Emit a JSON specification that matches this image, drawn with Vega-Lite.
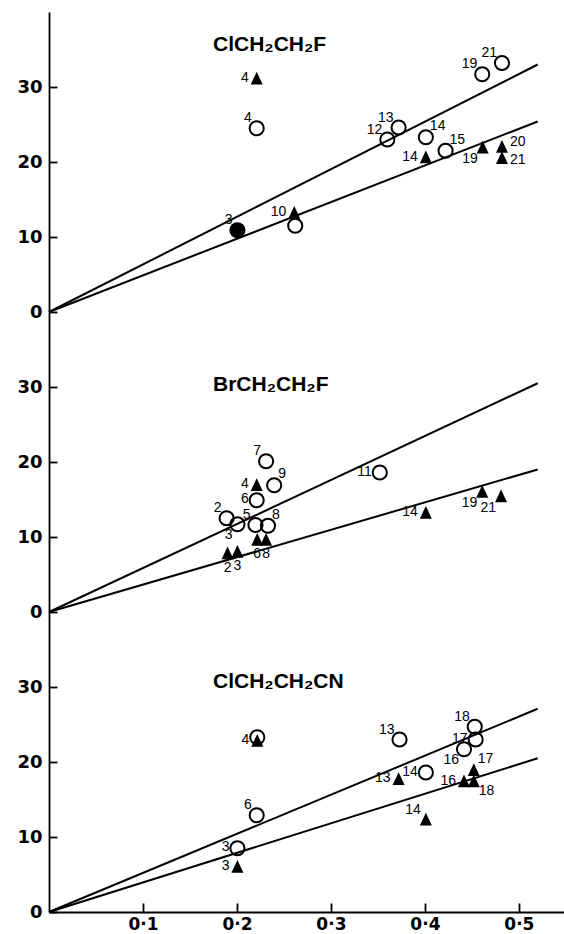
{
  "$schema": "https://vega.github.io/schema/vega-lite/v6.json",
  "padding": {"left": 5, "top": 12, "right": 0, "bottom": 0},
  "background": "white",
  "spacing": 0,
  "bounds": "flush",
  "config": {
    "view": {"stroke": null},
    "axis": {"grid": false, "domainColor": "black", "tickColor": "black", "labelColor": "black", "domainWidth": 1.8, "tickWidth": 1.8, "labelFont": "DejaVu Sans", "labelFontWeight": "bold", "labelFontSize": 18, "title": null},
    "text": {"font": "Liberation Sans", "fontSize": 14, "color": "black"}
  },
  "datasets": {
    "titles": [
      {"panel": "A", "name": "ClCH₂CH₂F"},
      {"panel": "B", "name": "BrCH₂CH₂F"},
      {"panel": "C", "name": "ClCH₂CH₂CN"}
    ],
    "lines": [
      {"panel": "A", "line": "a", "x": 0, "y": 0}, {"panel": "A", "line": "a", "x": 0.52, "y": 33.0},
      {"panel": "A", "line": "b", "x": 0, "y": 0}, {"panel": "A", "line": "b", "x": 0.52, "y": 25.4},
      {"panel": "B", "line": "a", "x": 0, "y": 0}, {"panel": "B", "line": "a", "x": 0.52, "y": 30.5},
      {"panel": "B", "line": "b", "x": 0, "y": 0}, {"panel": "B", "line": "b", "x": 0.52, "y": 19.0},
      {"panel": "C", "line": "a", "x": 0, "y": 0}, {"panel": "C", "line": "a", "x": 0.52, "y": 27.1},
      {"panel": "C", "line": "b", "x": 0, "y": 0}, {"panel": "C", "line": "b", "x": 0.52, "y": 20.5}
    ],
    "points": [
      {"panel": "A", "marker": "tri", "x": 0.221, "y": 31.1, "label": "4", "pos": "l"},
      {"panel": "A", "marker": "open", "x": 0.221, "y": 24.5, "label": "4", "pos": "ul"},
      {"panel": "A", "marker": "both", "x": 0.2005, "y": 10.9, "label": "3", "pos": "ul"},
      {"panel": "A", "marker": "tri", "x": 0.261, "y": 13.2, "label": "10", "pos": "l"},
      {"panel": "A", "marker": "open", "x": 0.262, "y": 11.5, "label": "", "pos": "none"},
      {"panel": "A", "marker": "open", "x": 0.360, "y": 23.0, "label": "12", "pos": "ul"},
      {"panel": "A", "marker": "open", "x": 0.372, "y": 24.6, "label": "13", "pos": "ul"},
      {"panel": "A", "marker": "open", "x": 0.401, "y": 23.3, "label": "14", "pos": "ur"},
      {"panel": "A", "marker": "open", "x": 0.422, "y": 21.5, "label": "15", "pos": "ur"},
      {"panel": "A", "marker": "tri", "x": 0.401, "y": 20.6, "label": "14", "pos": "l"},
      {"panel": "A", "marker": "tri", "x": 0.4615, "y": 21.9, "label": "19", "pos": "ll"},
      {"panel": "A", "marker": "tri", "x": 0.482, "y": 22.0, "label": "20", "pos": "ru"},
      {"panel": "A", "marker": "tri", "x": 0.482, "y": 20.5, "label": "21", "pos": "rd"},
      {"panel": "A", "marker": "open", "x": 0.461, "y": 31.7, "label": "19", "pos": "ul"},
      {"panel": "A", "marker": "open", "x": 0.482, "y": 33.2, "label": "21", "pos": "ul"},

      {"panel": "B", "marker": "open", "x": 0.231, "y": 20.1, "label": "7", "pos": "ul"},
      {"panel": "B", "marker": "open", "x": 0.2396, "y": 16.9, "label": "9", "pos": "ur"},
      {"panel": "B", "marker": "tri", "x": 0.221, "y": 16.9, "label": "4", "pos": "l"},
      {"panel": "B", "marker": "open", "x": 0.221, "y": 14.9, "label": "6", "pos": "l"},
      {"panel": "B", "marker": "open", "x": 0.189, "y": 12.5, "label": "2", "pos": "ul"},
      {"panel": "B", "marker": "open", "x": 0.2005, "y": 11.7, "label": "3", "pos": "ll"},
      {"panel": "B", "marker": "open", "x": 0.2197, "y": 11.6, "label": "5", "pos": "ul"},
      {"panel": "B", "marker": "open", "x": 0.233, "y": 11.5, "label": "8", "pos": "ur"},
      {"panel": "B", "marker": "tri", "x": 0.190, "y": 7.8, "label": "2", "pos": "b"},
      {"panel": "B", "marker": "tri", "x": 0.2005, "y": 8.0, "label": "3", "pos": "b"},
      {"panel": "B", "marker": "tri", "x": 0.2216, "y": 9.6, "label": "6", "pos": "b"},
      {"panel": "B", "marker": "tri", "x": 0.231, "y": 9.6, "label": "8", "pos": "b"},
      {"panel": "B", "marker": "open", "x": 0.352, "y": 18.6, "label": "11", "pos": "l"},
      {"panel": "B", "marker": "tri", "x": 0.401, "y": 13.2, "label": "14", "pos": "l"},
      {"panel": "B", "marker": "tri", "x": 0.461, "y": 16.0, "label": "19", "pos": "ll"},
      {"panel": "B", "marker": "tri", "x": 0.481, "y": 15.4, "label": "21", "pos": "ll"},

      {"panel": "C", "marker": "open", "x": 0.2216, "y": 23.3, "label": "", "pos": "none"},
      {"panel": "C", "marker": "tri", "x": 0.2216, "y": 22.8, "label": "4", "pos": "l"},
      {"panel": "C", "marker": "open", "x": 0.373, "y": 23.0, "label": "13", "pos": "ul"},
      {"panel": "C", "marker": "open", "x": 0.453, "y": 24.7, "label": "18", "pos": "ul"},
      {"panel": "C", "marker": "open", "x": 0.454, "y": 23.0, "label": "17", "pos": "l"},
      {"panel": "C", "marker": "open", "x": 0.4416, "y": 21.7, "label": "16", "pos": "ll"},
      {"panel": "C", "marker": "open", "x": 0.401, "y": 18.6, "label": "14", "pos": "l"},
      {"panel": "C", "marker": "tri", "x": 0.372, "y": 17.7, "label": "13", "pos": "l"},
      {"panel": "C", "marker": "tri", "x": 0.4416, "y": 17.4, "label": "16", "pos": "l"},
      {"panel": "C", "marker": "tri", "x": 0.452, "y": 18.9, "label": "17", "pos": "ur"},
      {"panel": "C", "marker": "tri", "x": 0.452, "y": 17.4, "label": "18", "pos": "lr"},
      {"panel": "C", "marker": "open", "x": 0.221, "y": 12.9, "label": "6", "pos": "ul"},
      {"panel": "C", "marker": "open", "x": 0.2005, "y": 8.5, "label": "3", "pos": "l"},
      {"panel": "C", "marker": "tri", "x": 0.2005, "y": 6.0, "label": "3", "pos": "l"},
      {"panel": "C", "marker": "tri", "x": 0.401, "y": 12.3, "label": "14", "pos": "ul"}
    ]
  },
  "vconcat": [
    {
      "width": 515, "height": 300,
      "layer": [
        {"data": {"name": "lines"}, "transform": [{"filter": "datum.panel === 'A'"}], "mark": {"type": "line", "color": "black", "strokeWidth": 2},
         "encoding": {
           "x": {"field": "x", "type": "quantitative", "scale": {"domain": [0, 0.548], "nice": false, "zero": false}, "axis": null},
           "y": {"field": "y", "type": "quantitative", "scale": {"domain": [0, 40], "nice": false}, "axis": {"values": [0, 10, 20, 30], "tickSize": -8, "labelPadding": 15, "minExtent": 44, "maxExtent": 44}},
           "detail": {"field": "line"}}},
        {"data": {"name": "points"}, "transform": [{"filter": "datum.panel === 'A' && datum.marker === 'open'"}], "mark": {"type": "point", "shape": "circle", "size": 200, "filled": false, "stroke": "black", "strokeWidth": 2, "opacity": 1},
         "encoding": {"x": {"field": "x", "type": "quantitative", "axis": null}, "y": {"field": "y", "type": "quantitative"}}},
        {"data": {"name": "points"}, "transform": [{"filter": "datum.panel === 'A' && datum.marker === 'both'"}], "mark": {"type": "point", "shape": "circle", "size": 260, "filled": true, "color": "black", "opacity": 1},
         "encoding": {"x": {"field": "x", "type": "quantitative", "axis": null}, "y": {"field": "y", "type": "quantitative"}}},
        {"data": {"name": "points"}, "transform": [{"filter": "datum.panel === 'A' && datum.marker === 'tri'"}], "mark": {"type": "point", "shape": "M0,-1L0.85,0.8L-0.85,0.8Z", "size": 200, "filled": true, "color": "black", "opacity": 1},
         "encoding": {"x": {"field": "x", "type": "quantitative", "axis": null}, "y": {"field": "y", "type": "quantitative"}}},
        {"data": {"name": "points"}, "transform": [{"filter": "datum.panel === 'A' && datum.pos === 'ul'"}], "mark": {"type": "text", "align": "right", "baseline": "alphabetic", "dx": -5, "dy": -6},
         "encoding": {"x": {"field": "x", "type": "quantitative", "axis": null}, "y": {"field": "y", "type": "quantitative"}, "text": {"field": "label"}}},
        {"data": {"name": "points"}, "transform": [{"filter": "datum.panel === 'A' && datum.pos === 'l'"}], "mark": {"type": "text", "align": "right", "baseline": "middle", "dx": -8, "dy": -1},
         "encoding": {"x": {"field": "x", "type": "quantitative", "axis": null}, "y": {"field": "y", "type": "quantitative"}, "text": {"field": "label"}}},
        {"data": {"name": "points"}, "transform": [{"filter": "datum.panel === 'A' && datum.pos === 'ur'"}], "mark": {"type": "text", "align": "left", "baseline": "alphabetic", "dx": 4, "dy": -7},
         "encoding": {"x": {"field": "x", "type": "quantitative", "axis": null}, "y": {"field": "y", "type": "quantitative"}, "text": {"field": "label"}}},
        {"data": {"name": "points"}, "transform": [{"filter": "datum.panel === 'A' && datum.pos === 'ru'"}], "mark": {"type": "text", "align": "left", "baseline": "middle", "dx": 8, "dy": -5},
         "encoding": {"x": {"field": "x", "type": "quantitative", "axis": null}, "y": {"field": "y", "type": "quantitative"}, "text": {"field": "label"}}},
        {"data": {"name": "points"}, "transform": [{"filter": "datum.panel === 'A' && datum.pos === 'rd'"}], "mark": {"type": "text", "align": "left", "baseline": "middle", "dx": 8, "dy": 2},
         "encoding": {"x": {"field": "x", "type": "quantitative", "axis": null}, "y": {"field": "y", "type": "quantitative"}, "text": {"field": "label"}}},
        {"data": {"name": "points"}, "transform": [{"filter": "datum.panel === 'A' && datum.pos === 'll'"}], "mark": {"type": "text", "align": "right", "baseline": "top", "dx": -5, "dy": 4},
         "encoding": {"x": {"field": "x", "type": "quantitative", "axis": null}, "y": {"field": "y", "type": "quantitative"}, "text": {"field": "label"}}},
        {"data": {"name": "titles"}, "transform": [{"filter": "datum.panel === 'A'"}], "mark": {"type": "text", "font": "Liberation Sans", "fontWeight": "bold", "fontSize": 21, "align": "left", "baseline": "middle"},
         "encoding": {"x": {"datum": 0.1745, "type": "quantitative", "axis": null}, "y": {"datum": 35.6, "type": "quantitative"}, "text": {"field": "name"}}}
      ]
    },
    {
      "width": 515, "height": 300,
      "layer": [
        {"data": {"name": "lines"}, "transform": [{"filter": "datum.panel === 'B'"}], "mark": {"type": "line", "color": "black", "strokeWidth": 2},
         "encoding": {
           "x": {"field": "x", "type": "quantitative", "scale": {"domain": [0, 0.548], "nice": false, "zero": false}, "axis": null},
           "y": {"field": "y", "type": "quantitative", "scale": {"domain": [0, 40], "nice": false}, "axis": {"values": [0, 10, 20, 30], "tickSize": -8, "labelPadding": 15, "minExtent": 44, "maxExtent": 44}},
           "detail": {"field": "line"}}},
        {"data": {"name": "points"}, "transform": [{"filter": "datum.panel === 'B' && datum.marker === 'open'"}], "mark": {"type": "point", "shape": "circle", "size": 200, "filled": false, "stroke": "black", "strokeWidth": 2, "opacity": 1},
         "encoding": {"x": {"field": "x", "type": "quantitative", "axis": null}, "y": {"field": "y", "type": "quantitative"}}},
        {"data": {"name": "points"}, "transform": [{"filter": "datum.panel === 'B' && datum.marker === 'tri'"}], "mark": {"type": "point", "shape": "M0,-1L0.85,0.8L-0.85,0.8Z", "size": 200, "filled": true, "color": "black", "opacity": 1},
         "encoding": {"x": {"field": "x", "type": "quantitative", "axis": null}, "y": {"field": "y", "type": "quantitative"}}},
        {"data": {"name": "points"}, "transform": [{"filter": "datum.panel === 'B' && datum.pos === 'ul'"}], "mark": {"type": "text", "align": "right", "baseline": "alphabetic", "dx": -5, "dy": -6},
         "encoding": {"x": {"field": "x", "type": "quantitative", "axis": null}, "y": {"field": "y", "type": "quantitative"}, "text": {"field": "label"}}},
        {"data": {"name": "points"}, "transform": [{"filter": "datum.panel === 'B' && datum.pos === 'l'"}], "mark": {"type": "text", "align": "right", "baseline": "middle", "dx": -8, "dy": -1},
         "encoding": {"x": {"field": "x", "type": "quantitative", "axis": null}, "y": {"field": "y", "type": "quantitative"}, "text": {"field": "label"}}},
        {"data": {"name": "points"}, "transform": [{"filter": "datum.panel === 'B' && datum.pos === 'ur'"}], "mark": {"type": "text", "align": "left", "baseline": "alphabetic", "dx": 4, "dy": -7},
         "encoding": {"x": {"field": "x", "type": "quantitative", "axis": null}, "y": {"field": "y", "type": "quantitative"}, "text": {"field": "label"}}},
        {"data": {"name": "points"}, "transform": [{"filter": "datum.panel === 'B' && datum.pos === 'll'"}], "mark": {"type": "text", "align": "right", "baseline": "top", "dx": -5, "dy": 4},
         "encoding": {"x": {"field": "x", "type": "quantitative", "axis": null}, "y": {"field": "y", "type": "quantitative"}, "text": {"field": "label"}}},
        {"data": {"name": "points"}, "transform": [{"filter": "datum.panel === 'B' && datum.pos === 'b'"}], "mark": {"type": "text", "align": "center", "baseline": "top", "dx": 0, "dy": 7},
         "encoding": {"x": {"field": "x", "type": "quantitative", "axis": null}, "y": {"field": "y", "type": "quantitative"}, "text": {"field": "label"}}},
        {"data": {"name": "titles"}, "transform": [{"filter": "datum.panel === 'B'"}], "mark": {"type": "text", "font": "Liberation Sans", "fontWeight": "bold", "fontSize": 21, "align": "left", "baseline": "middle"},
         "encoding": {"x": {"datum": 0.1745, "type": "quantitative", "axis": null}, "y": {"datum": 30.3, "type": "quantitative"}, "text": {"field": "name"}}}
      ]
    },
    {
      "width": 515, "height": 300,
      "layer": [
        {"data": {"name": "lines"}, "transform": [{"filter": "datum.panel === 'C'"}], "mark": {"type": "line", "color": "black", "strokeWidth": 2},
         "encoding": {
           "x": {"field": "x", "type": "quantitative", "scale": {"domain": [0, 0.548], "nice": false, "zero": false}, "axis": {"values": [0.1, 0.2, 0.3, 0.4, 0.5], "tickSize": -9, "labelPadding": 13, "labelFontSize": 17, "labelFlush": false, "labelExpr": "replace(format(datum.value, '.1f'), '.', '·')"}},
           "y": {"field": "y", "type": "quantitative", "scale": {"domain": [0, 40], "nice": false}, "axis": {"values": [0, 10, 20, 30], "tickSize": -8, "labelPadding": 15, "minExtent": 44, "maxExtent": 44}},
           "detail": {"field": "line"}}},
        {"data": {"name": "points"}, "transform": [{"filter": "datum.panel === 'C' && datum.marker === 'open'"}], "mark": {"type": "point", "shape": "circle", "size": 200, "filled": false, "stroke": "black", "strokeWidth": 2, "opacity": 1},
         "encoding": {"x": {"field": "x", "type": "quantitative"}, "y": {"field": "y", "type": "quantitative"}}},
        {"data": {"name": "points"}, "transform": [{"filter": "datum.panel === 'C' && datum.marker === 'tri'"}], "mark": {"type": "point", "shape": "M0,-1L0.85,0.8L-0.85,0.8Z", "size": 200, "filled": true, "color": "black", "opacity": 1},
         "encoding": {"x": {"field": "x", "type": "quantitative"}, "y": {"field": "y", "type": "quantitative"}}},
        {"data": {"name": "points"}, "transform": [{"filter": "datum.panel === 'C' && datum.pos === 'ul'"}], "mark": {"type": "text", "align": "right", "baseline": "alphabetic", "dx": -5, "dy": -6},
         "encoding": {"x": {"field": "x", "type": "quantitative"}, "y": {"field": "y", "type": "quantitative"}, "text": {"field": "label"}}},
        {"data": {"name": "points"}, "transform": [{"filter": "datum.panel === 'C' && datum.pos === 'l'"}], "mark": {"type": "text", "align": "right", "baseline": "middle", "dx": -8, "dy": -1},
         "encoding": {"x": {"field": "x", "type": "quantitative"}, "y": {"field": "y", "type": "quantitative"}, "text": {"field": "label"}}},
        {"data": {"name": "points"}, "transform": [{"filter": "datum.panel === 'C' && datum.pos === 'ur'"}], "mark": {"type": "text", "align": "left", "baseline": "alphabetic", "dx": 4, "dy": -7},
         "encoding": {"x": {"field": "x", "type": "quantitative"}, "y": {"field": "y", "type": "quantitative"}, "text": {"field": "label"}}},
        {"data": {"name": "points"}, "transform": [{"filter": "datum.panel === 'C' && datum.pos === 'll'"}], "mark": {"type": "text", "align": "right", "baseline": "top", "dx": -5, "dy": 4},
         "encoding": {"x": {"field": "x", "type": "quantitative"}, "y": {"field": "y", "type": "quantitative"}, "text": {"field": "label"}}},
        {"data": {"name": "points"}, "transform": [{"filter": "datum.panel === 'C' && datum.pos === 'lr'"}], "mark": {"type": "text", "align": "left", "baseline": "top", "dx": 5, "dy": 2},
         "encoding": {"x": {"field": "x", "type": "quantitative"}, "y": {"field": "y", "type": "quantitative"}, "text": {"field": "label"}}},
        {"data": {"name": "titles"}, "transform": [{"filter": "datum.panel === 'C'"}], "mark": {"type": "text", "font": "Liberation Sans", "fontWeight": "bold", "fontSize": 21, "align": "left", "baseline": "middle"},
         "encoding": {"x": {"datum": 0.1745, "type": "quantitative"}, "y": {"datum": 30.7, "type": "quantitative"}, "text": {"field": "name"}}}
      ]
    }
  ]
}
